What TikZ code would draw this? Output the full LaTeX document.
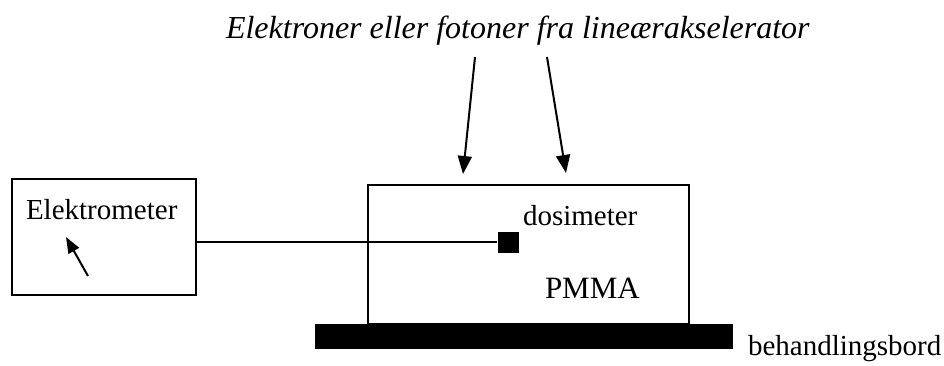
\documentclass[tikz,border=0pt]{standalone}
\usepackage{fontspec}
\setmainfont{Liberation Serif}
\usetikzlibrary{arrows.meta}
\begin{document}
\begin{tikzpicture}[x=1pt,y=-1pt,line width=2pt,
  lbl/.style={anchor=base west,inner sep=0pt,font=\fontsize{29}{34}\selectfont},
  ray/.style={-{Triangle[width=14pt,length=18pt]},line width=2pt},
  box/.style={draw,line width=2pt}]
\useasboundingbox (0,0) rectangle (944,365);
% boxes
\draw[box] (12,179) rectangle (196,295);
\coordinate (emR) at (196,242);
\draw[box] (368,185) rectangle (689,324);
\fill (315,324) rectangle (733,349);
% dosimeter
\node[fill=black,minimum size=21pt,inner sep=0pt,draw=none] (dos) at (508.5,242) {};
\draw[line width=1.6pt] (emR) -- (dos.west);
% texts
\node[lbl] (tit) at (225,38) {\fontsize{32}{38}\selectfont\itshape Elektroner eller fotoner fra lineærakselerator};
\node[lbl] (el) at (25,219) {Elektrometer};
\node[lbl] (dt) at (522,225) {dosimeter};
\node[lbl,font=\fontsize{31}{36}\selectfont] (pm) at (544,298) {PMMA};
\node[lbl] (bb) at (747,355) {behandlingsbord};
% arrows
\coordinate (a1s) at (475,57); \coordinate (a1e) at (463,174);
\coordinate (a2s) at (547,57); \coordinate (a2e) at (566,173);
\draw[ray] (a1s) -- (a1e);
\draw[ray] (a2s) -- (a2e);
\coordinate (m1) at (88,276); \coordinate (m2) at (66,237);
\draw[ray,-{Triangle[width=12pt,length=16pt]}] (m1) -- (m2);
\end{tikzpicture}
\end{document}
